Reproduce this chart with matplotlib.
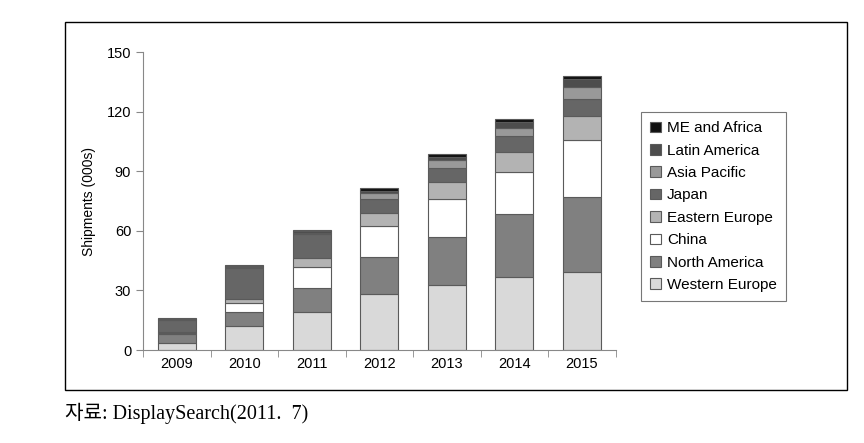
import matplotlib.pyplot as plt
from matplotlib.patches import Rectangle
import numpy as np

years = ["2009", "2010", "2011", "2012", "2013", "2014", "2015"]

# stacked from bottom to top
western_europe = [3.5, 11.9, 19.0, 28.0, 32.6, 36.9, 39.1]
north_america = [4.5, 7.1, 12.0, 18.6, 24.1, 31.5, 37.7]
china = [0.6, 4.5, 10.6, 15.8, 19.4, 21.3, 28.7]
eastern_europe = [0.6, 2.3, 4.9, 6.7, 8.4, 10.1, 12.1]
japan = [6.0, 15.3, 11.9, 6.9, 7.0, 7.9, 8.6]
asia_pacific = [0.3, 0.5, 0.7, 2.9, 4.2, 4.2, 6.3]
latin_america = [0.3, 0.6, 1.0, 1.3, 1.7, 3.0, 3.9]
me_africa = [0.3, 0.6, 0.5, 1.2, 1.3, 1.2, 1.5]

series = [
    ("Western Europe", western_europe, "#d9d9d9"),
    ("North America", north_america, "#808080"),
    ("China", china, "#ffffff"),
    ("Eastern Europe", eastern_europe, "#b3b3b3"),
    ("Japan", japan, "#666666"),
    ("Asia Pacific", asia_pacific, "#999999"),
    ("Latin America", latin_america, "#4d4d4d"),
    ("ME and Africa", me_africa, "#111111"),
]

plt.rcParams['font.family'] = ['Liberation Sans', 'DejaVu Sans']

fig = plt.figure(figsize=(8.64, 4.43), dpi=100)
ax = fig.add_axes([0.1655, 0.2099, 0.547, 0.6727])

x = np.arange(len(years))
bottom = np.zeros(len(years))
handles = []
for name, vals, col in series:
    b = ax.bar(x, vals, 0.56, bottom=bottom, color=col, edgecolor="#5a5a5a",
               linewidth=0.8, label=name)
    handles.append(b)
    bottom += np.array(vals)

ax.set_xlim(-0.5, 6.5)
ax.set_ylim(0, 150)
ax.set_yticks([0, 30, 60, 90, 120, 150])
ax.set_xticks(x)
ax.set_xticklabels(years)
ax.set_xticks(np.arange(-0.5, 7, 1), minor=True)
ax.tick_params(axis='x', which='major', length=0, labelsize=10.5, pad=5)
ax.tick_params(axis='x', which='minor', length=5, direction='out', color='#888888')
ax.tick_params(axis='y', length=5, direction='out', color='#888888', labelsize=10.5)
ax.set_ylabel("Shipments (000s)", fontsize=10, labelpad=8)
for s in ['top', 'right']:
    ax.spines[s].set_visible(False)
for s in ['left', 'bottom']:
    ax.spines[s].set_color('#888888')

leg = fig.legend(handles[::-1], [s[0] for s in series][::-1],
                 loc='upper left', bbox_to_anchor=(0.742, 0.747),
                 fontsize=11, frameon=True, fancybox=False, borderaxespad=0,
                 handlelength=0.7, handleheight=0.7, handletextpad=0.4,
                 labelspacing=0.55, borderpad=0.6)
leg.get_frame().set_edgecolor('#555555')
leg.get_frame().set_linewidth(0.8)

# outer frame
fig.patches.append(Rectangle((0.075, 0.1196), 0.905, 0.8307, transform=fig.transFigure,
                             fill=False, edgecolor='black', linewidth=1))

fig.text(0.075, 0.055, "자료: DisplaySearch(2011.  7)", fontsize=14.5,
         family=['Liberation Serif', 'Noto Sans CJK KR'])

plt.savefig('out.png', dpi=100)
